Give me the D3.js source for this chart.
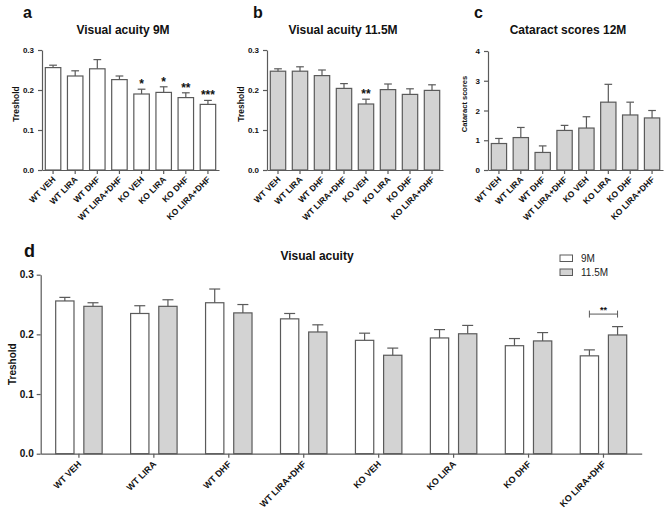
<!DOCTYPE html>
<html><head><meta charset="utf-8">
<script src="https://cdn.jsdelivr.net/npm/d3@7"></script>
<style>body{margin:0;background:#fff}svg{display:block}text{font-family:"Liberation Sans",Arial,sans-serif}</style>
</head><body>
<svg id="chart" width="669" height="519"></svg>
<script>
const categories = ["WT VEH","WT LIRA","WT DHF","WT LIRA+DHF","KO VEH","KO LIRA","KO DHF","KO LIRA+DHF"];
const acuity9M = [0.256, 0.235, 0.253, 0.226, 0.190, 0.194, 0.181, 0.164];
const acuity9MErr = [0.006, 0.013, 0.023, 0.009, 0.012, 0.014, 0.012, 0.010];
const acuity115M = [0.247, 0.247, 0.236, 0.204, 0.165, 0.201, 0.189, 0.199];
const acuity115MErr = [0.006, 0.011, 0.014, 0.012, 0.012, 0.014, 0.014, 0.014];
const cataract = [0.89, 1.09, 0.59, 1.33, 1.41, 2.28, 1.85, 1.75];
const cataractErr = [0.17, 0.34, 0.22, 0.17, 0.38, 0.60, 0.43, 0.25];
const sig9M = ["","","","","*","*","**","***"];
const sig115M = ["","","","","**","","",""];
const acuityTicks = [0, 0.1, 0.2, 0.3];
const cataractTicks = [0, 1, 2, 3, 4];
const seriesNames = ["9M", "11.5M"];

const svg = d3.select("#chart");
const STROKE = "#5a5a5a";
const GRAY = "#d3d3d3";

function styleAxis(g, fs) {
  g.select(".domain").attr("stroke", STROKE).attr("stroke-width", 1.2);
  g.selectAll(".tick line").attr("stroke", STROKE).attr("stroke-width", 1.2);
  g.selectAll("text").attr("font-size", fs).attr("font-weight", "bold").attr("fill", "#111");
}

function smallPanel(o) {
  const x = d3.scaleBand().domain(categories).range(o.xr).paddingInner(0.3).paddingOuter(0.15);
  const y = d3.scaleLinear().domain(o.dom).range(o.yr);
  const g = svg.append("g");
  g.selectAll("rect.bar").data(categories).join("rect")
    .attr("x", d => x(d)).attr("width", x.bandwidth())
    .attr("y", (d, i) => y(o.values[i])).attr("height", (d, i) => y(0) - y(o.values[i]))
    .attr("fill", o.fill).attr("stroke", STROKE).attr("stroke-width", 1.2);
  const cw = x.bandwidth() * 0.5;
  categories.forEach((c, i) => {
    const cx = x(c) + x.bandwidth() / 2;
    const top = y(o.values[i] + o.errs[i]);
    g.append("line").attr("x1", cx).attr("x2", cx).attr("y1", y(o.values[i])).attr("y2", top).attr("stroke", STROKE).attr("stroke-width", 1.2);
    g.append("line").attr("x1", cx - cw / 2).attr("x2", cx + cw / 2).attr("y1", top).attr("y2", top).attr("stroke", STROKE).attr("stroke-width", 1.2);
    if (o.sig && o.sig[i]) {
      g.append("text").attr("x", cx).attr("y", top - 1).attr("text-anchor", "middle")
        .attr("font-size", 12).attr("font-weight", "bold").attr("fill", "#111").text(o.sig[i]);
    }
  });
  const ya = g.append("g").attr("transform", `translate(${o.xr[0]},0)`)
    .call(d3.axisLeft(y).tickValues(o.ticks).tickFormat(o.fmt).tickSize(4).tickSizeOuter(0));
  styleAxis(ya, 8);
  ya.selectAll("text").attr("dx", "-1");
  const xa = g.append("g").attr("transform", `translate(0,${o.yr[0]})`)
    .call(d3.axisBottom(x).tickSize(4).tickSizeOuter(0));
  styleAxis(xa, 8.5);
  xa.selectAll("text").attr("text-anchor", "end").attr("dy", null).attr("y", 0)
    .attr("transform", "translate(3,10) rotate(-45)");
  svg.append("text").attr("x", o.titleX).attr("y", 34).attr("text-anchor", "middle")
    .attr("font-size", 12).attr("font-weight", "bold").attr("fill", "#111").text(o.title);
  svg.append("text").attr("transform", `translate(${o.ylabX},104) rotate(-90)`)
    .attr("text-anchor", "middle").attr("font-size", o.ylabSize).attr("font-weight", "bold").attr("fill", "#111").text(o.ylab);
  svg.append("text").attr("x", o.letterX).attr("y", 17.5).attr("font-size", 16).attr("font-weight", "bold").attr("fill", "#111").text(o.letter);
}

smallPanel({xr: [42, 219], yr: [170, 50], dom: [0, 0.3], values: acuity9M, errs: acuity9MErr, fill: "#fff",
  sig: sig9M, ticks: acuityTicks, fmt: d3.format(".1f"), title: "Visual acuity 9M", titleX: 123, ylab: "Treshold", ylabSize: 8.5, ylabX: 18.5, letter: "a", letterX: 23});
smallPanel({xr: [267, 443], yr: [170, 50], dom: [0, 0.3], values: acuity115M, errs: acuity115MErr, fill: GRAY,
  sig: sig115M, ticks: acuityTicks, fmt: d3.format(".1f"), title: "Visual acuity 11.5M", titleX: 343, ylab: "Treshold", ylabSize: 8.5, ylabX: 244, letter: "b", letterX: 253});
smallPanel({xr: [488, 663], yr: [170, 51], dom: [0, 4], values: cataract, errs: cataractErr, fill: GRAY,
  sig: null, ticks: cataractTicks, fmt: d3.format("d"), title: "Cataract scores 12M", titleX: 568, ylab: "Cataract scores", ylabSize: 7.5, ylabX: 467, letter: "c", letterX: 474});

// Panel d
(function () {
  const xr = [40.7, 641.7], yr = [453.7, 274.7];
  const x0 = d3.scaleBand().domain(categories).range(xr).paddingInner(0.38).paddingOuter(0.2);
  const x1 = d3.scaleBand().domain(seriesNames).range([0, x0.bandwidth()]).paddingInner(0.35);
  const y = d3.scaleLinear().domain([0, 0.3]).range(yr);
  const g = svg.append("g");
  const series = [
    {name: "9M", values: acuity9M, errs: acuity9MErr, fill: "#fff"},
    {name: "11.5M", values: acuity115M, errs: acuity115MErr, fill: GRAY}
  ];
  series.forEach(s => {
    categories.forEach((c, i) => {
      const bx = x0(c) + x1(s.name);
      const bw = x1.bandwidth();
      g.append("rect").attr("x", bx).attr("width", bw).attr("y", y(s.values[i])).attr("height", y(0) - y(s.values[i]))
        .attr("fill", s.fill).attr("stroke", STROKE).attr("stroke-width", 1.2);
      const cx = bx + bw / 2, top = y(s.values[i] + s.errs[i]), cw = bw * 0.6;
      g.append("line").attr("x1", cx).attr("x2", cx).attr("y1", y(s.values[i])).attr("y2", top).attr("stroke", STROKE).attr("stroke-width", 1.2);
      g.append("line").attr("x1", cx - cw / 2).attr("x2", cx + cw / 2).attr("y1", top).attr("y2", top).attr("stroke", STROKE).attr("stroke-width", 1.2);
    });
  });
  const last = categories[categories.length - 1];
  const bx1 = x0(last) + x1("9M") + x1.bandwidth() / 2;
  const bx2 = x0(last) + x1("11.5M") + x1.bandwidth() / 2;
  const by = y(0.234);
  g.append("line").attr("x1", bx1).attr("x2", bx2).attr("y1", by).attr("y2", by).attr("stroke", STROKE).attr("stroke-width", 1);
  [bx1, bx2].forEach(bx => g.append("line").attr("x1", bx).attr("x2", bx).attr("y1", by - 3.5).attr("y2", by + 3.5).attr("stroke", STROKE).attr("stroke-width", 1));
  g.append("text").attr("x", (bx1 + bx2) / 2).attr("y", by - 1).attr("text-anchor", "middle")
    .attr("font-size", 9).attr("font-weight", "bold").attr("fill", "#111").text("**");

  const ya = g.append("g").attr("transform", `translate(${xr[0]},0)`)
    .call(d3.axisLeft(y).tickValues(acuityTicks).tickFormat(d3.format(".1f")).tickSize(4).tickSizeOuter(0));
  styleAxis(ya, 10);
  const xa = g.append("g").attr("transform", `translate(0,${yr[0]})`)
    .call(d3.axisBottom(x0).tickSize(4).tickSizeOuter(0));
  styleAxis(xa, 9);
  xa.selectAll("text").attr("text-anchor", "end").attr("dy", null).attr("y", 0)
    .attr("transform", "translate(3,11) rotate(-45)");

  svg.append("text").attr("x", 317).attr("y", 260).attr("text-anchor", "middle")
    .attr("font-size", 12).attr("font-weight", "bold").attr("fill", "#111").text("Visual acuity");
  svg.append("text").attr("transform", `translate(16,${(yr[0] + yr[1]) / 2}) rotate(-90)`)
    .attr("text-anchor", "middle").attr("font-size", 10).attr("font-weight", "bold").attr("fill", "#111").text("Treshold");
  svg.append("text").attr("x", 24).attr("y", 256.5).attr("font-size", 18).attr("font-weight", "bold").attr("fill", "#111").text("d");

  const lg = svg.append("g");
  series.forEach((s, i) => {
    const ly = 255 + i * 14;
    lg.append("rect").attr("x", 560).attr("y", ly).attr("width", 12.5).attr("height", 6.5)
      .attr("fill", s.fill).attr("stroke", STROKE).attr("stroke-width", 1);
    lg.append("text").attr("x", 581).attr("y", ly + 7).attr("font-size", 10).attr("fill", "#222").text(s.name);
  });
})();
</script>
</body></html>
